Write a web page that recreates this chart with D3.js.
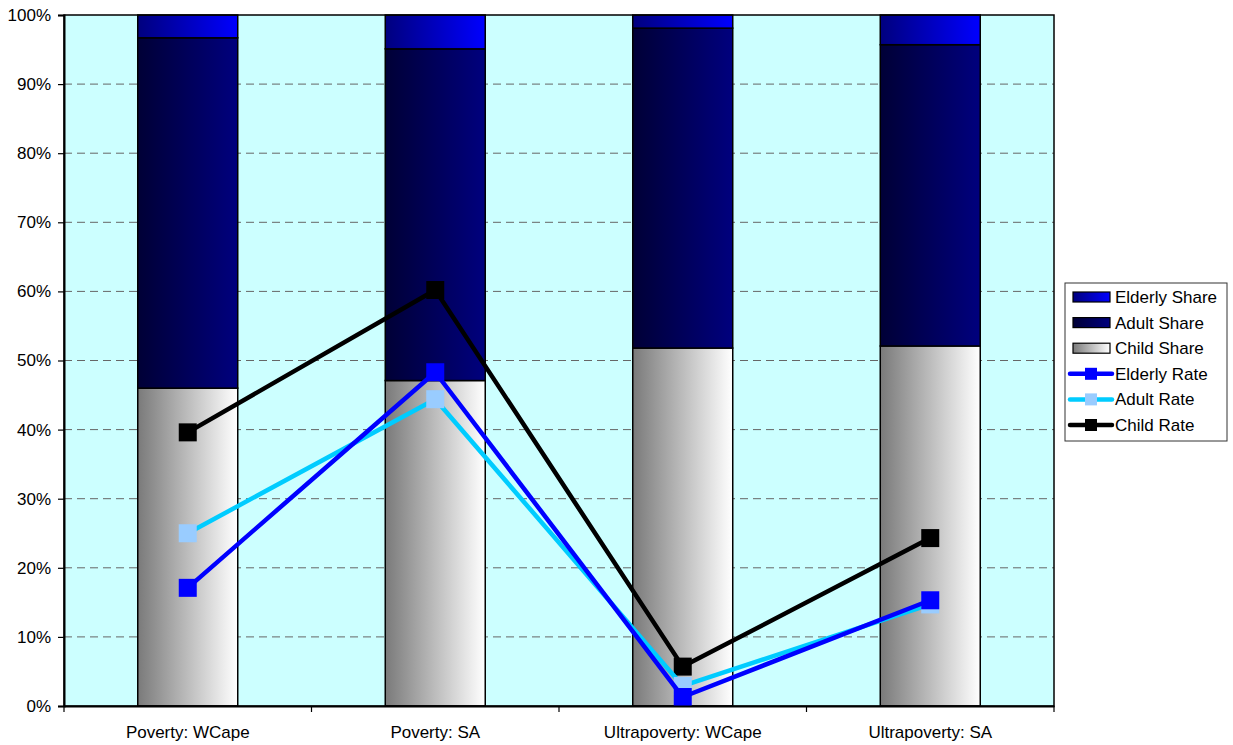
<!DOCTYPE html>
<html>
<head>
<meta charset="utf-8">
<script src="https://cdn.jsdelivr.net/npm/d3@7"></script>
<style>
  html, body { margin: 0; padding: 0; background: #ffffff; }
  svg { display: block; }
  text { font-family: Arial, "Liberation Sans", sans-serif; fill: #000; }
</style>
</head>
<body>
<svg id="chart" width="1233" height="745"></svg>
<script>
// Categories along the x axis
const categories = ["Poverty: WCape", "Poverty: SA", "Ultrapoverty: WCape", "Ultrapoverty: SA"];

// Stacked shares (percent of the poor population)
const childShare   = [46.0, 47.1, 51.8, 52.1];
const adultShare   = [50.7, 48.0, 46.3, 43.6];
const elderlyShare = [3.3, 4.9, 1.9, 4.3];

// Poverty rates by age group (percent)
const childRate   = [39.6, 60.2, 5.7, 24.3];
const adultRate   = [25.0, 44.4, 2.9, 14.7];
const elderlyRate = [17.1, 48.3, 1.3, 15.3];

// Y axis tick values
const yTicks = [0, 10, 20, 30, 40, 50, 60, 70, 80, 90, 100];

const svg = d3.select("#chart");
const plot = { left: 64, top: 15, right: 1054, bottom: 706 };

const x = d3.scaleBand().domain(categories).range([plot.left, plot.right]).paddingInner(0).paddingOuter(0);
const y = d3.scaleLinear().domain([0, 100]).range([plot.bottom, plot.top]);
const barW = x.bandwidth() * 0.404;

// Gradients for the bar segments
const defs = svg.append("defs");
function grad(id, c0, c1) {
  const g = defs.append("linearGradient").attr("id", id).attr("x1", "0%").attr("x2", "100%").attr("y1", "0%").attr("y2", "0%");
  g.append("stop").attr("offset", "0%").attr("stop-color", c0);
  g.append("stop").attr("offset", "100%").attr("stop-color", c1);
}
grad("gChild", "#7a7a7a", "#ffffff");
grad("gAdult", "#000036", "#00007e");
grad("gElderly", "#00007e", "#0000ff");

// Plot background
svg.append("rect")
  .attr("x", plot.left).attr("y", plot.top)
  .attr("width", plot.right - plot.left).attr("height", plot.bottom - plot.top)
  .attr("fill", "#ccffff");

// Dashed gridlines
svg.append("g").selectAll("line")
  .data(yTicks.filter(d => d > 0 && d < 100))
  .join("line")
  .attr("x1", plot.left).attr("x2", plot.right)
  .attr("y1", d => y(d)).attr("y2", d => y(d))
  .attr("stroke", "#666")
  .attr("stroke-width", 1)
  .attr("stroke-dasharray", "8,5");

// Stacked bars
const stackRows = categories.map((c, i) => ({
  cat: c, child: childShare[i], adult: adultShare[i], elderly: elderlyShare[i]
}));
const stack = d3.stack().keys(["child", "adult", "elderly"])(stackRows);
const fills = { child: "url(#gChild)", adult: "url(#gAdult)", elderly: "url(#gElderly)" };

stack.forEach(layer => {
  svg.append("g").selectAll("rect")
    .data(layer)
    .join("rect")
    .attr("x", d => x(d.data.cat) + (x.bandwidth() - barW) / 2)
    .attr("y", d => y(Math.min(d[1], 100)))
    .attr("width", barW)
    .attr("height", d => y(d[0]) - y(Math.min(d[1], 100)))
    .attr("fill", fills[layer.key])
    .attr("stroke", "#000")
    .attr("stroke-width", 1.5);
});

// Plot border (top and right)
svg.append("rect")
  .attr("x", plot.left).attr("y", plot.top)
  .attr("width", plot.right - plot.left).attr("height", plot.bottom - plot.top)
  .attr("fill", "none").attr("stroke", "#000").attr("stroke-width", 1.5);

// Rate lines
const cx = c => x(c) + x.bandwidth() / 2;
const lineGen = d3.line().x(d => cx(d.cat)).y(d => y(d.v));
const rateSeries = [
  { name: "Child Rate",   values: childRate,   line: "#000000", marker: "#000000" },
  { name: "Adult Rate",   values: adultRate,   line: "#00ccff", marker: "#99ccff" },
  { name: "Elderly Rate", values: elderlyRate, line: "#0000ff", marker: "#0000ff" }
];
const mk = 18;
rateSeries.forEach(s => {
  const pts = categories.map((c, i) => ({ cat: c, v: s.values[i] }));
  svg.append("path")
    .datum(pts)
    .attr("d", lineGen)
    .attr("fill", "none")
    .attr("stroke", s.line)
    .attr("stroke-width", 4.5)
    .attr("stroke-linejoin", "round");
  svg.append("g").selectAll("rect")
    .data(pts)
    .join("rect")
    .attr("x", d => cx(d.cat) - mk / 2)
    .attr("y", d => y(d.v) - mk / 2)
    .attr("width", mk).attr("height", mk)
    .attr("fill", s.marker);
});

// Axes
const yAxis = d3.axisLeft(y).tickValues(yTicks).tickFormat(d => d + "%").tickSize(6).tickPadding(7);
const gy = svg.append("g").attr("transform", `translate(${plot.left},0)`).call(yAxis);
gy.select(".domain").attr("stroke", "#000").attr("stroke-width", 2);
gy.selectAll(".tick line").attr("stroke", "#000").attr("stroke-width", 1.2);
gy.selectAll(".tick text").attr("font-size", 17).attr("font-family", "Arial, 'Liberation Sans', sans-serif").attr("fill", "#000");

const xAxis = d3.axisBottom(x).tickSize(0).tickPadding(20);
const gx = svg.append("g").attr("transform", `translate(0,${plot.bottom})`).call(xAxis);
gx.select(".domain").attr("stroke", "#000").attr("stroke-width", 2);
gx.selectAll(".tick text").attr("font-size", 17).attr("font-family", "Arial, 'Liberation Sans', sans-serif").attr("fill", "#000");

// Ticks between categories on the x axis
const boundaries = categories.map(c => x(c)).concat([plot.right]);
svg.append("g").selectAll("line")
  .data(boundaries)
  .join("line")
  .attr("x1", d => d).attr("x2", d => d)
  .attr("y1", plot.bottom).attr("y2", plot.bottom + 6)
  .attr("stroke", "#000").attr("stroke-width", 1.2);

// Legend
const legendItems = [
  { name: "Elderly Share", type: "bar", fill: "url(#gElderly)" },
  { name: "Adult Share",   type: "bar", fill: "url(#gAdult)" },
  { name: "Child Share",   type: "bar", fill: "url(#gChild)" },
  { name: "Elderly Rate",  type: "line", line: "#0000ff", marker: "#0000ff" },
  { name: "Adult Rate",    type: "line", line: "#00ccff", marker: "#99ccff" },
  { name: "Child Rate",    type: "line", line: "#000000", marker: "#000000" }
];
const lg = svg.append("g").attr("transform", "translate(1065,283)");
lg.append("rect").attr("x", 0).attr("y", 0).attr("width", 162).attr("height", 158)
  .attr("fill", "#fff").attr("stroke", "#333").attr("stroke-width", 1);
const rowY = i => 14 + i * 25.6;
legendItems.forEach((it, i) => {
  const g = lg.append("g").attr("transform", `translate(0,${rowY(i)})`);
  if (it.type === "bar") {
    g.append("rect").attr("x", 8).attr("y", -5).attr("width", 37).attr("height", 10)
      .attr("fill", it.fill).attr("stroke", "#000").attr("stroke-width", 1.2);
  } else {
    g.append("line").attr("x1", 5).attr("x2", 47).attr("y1", 0).attr("y2", 0)
      .attr("stroke", it.line).attr("stroke-width", 4.5).attr("stroke-linecap", "round");
    g.append("rect").attr("x", 20).attr("y", -6).attr("width", 12).attr("height", 12).attr("fill", it.marker);
  }
  g.append("text").attr("x", 50).attr("y", 6).attr("font-size", 17).text(it.name);
});
</script>
</body>
</html>
